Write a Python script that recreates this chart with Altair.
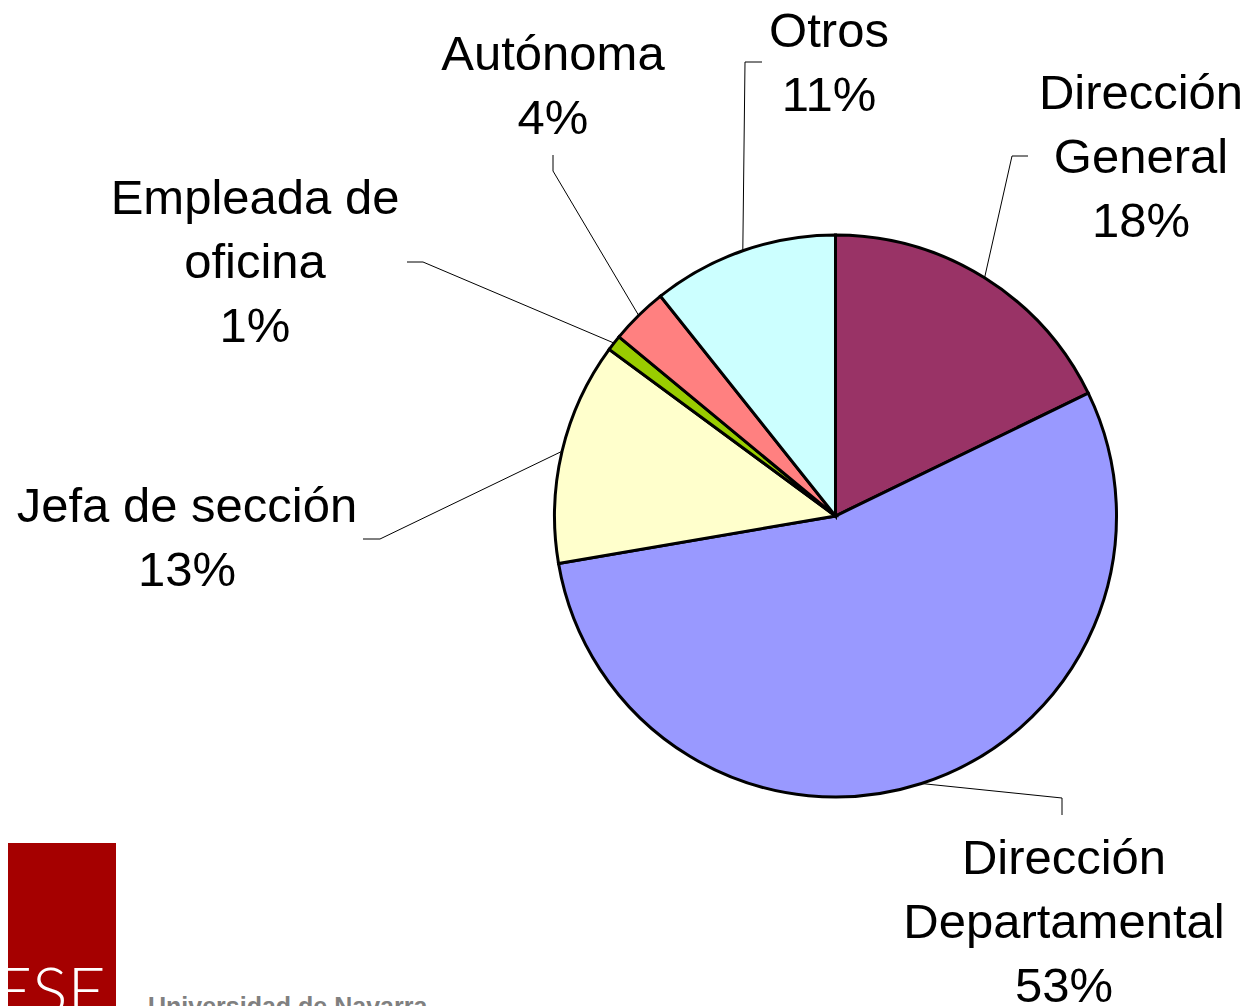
import numpy as np
import pandas as pd
import altair as alt

# ---------------- data ----------------
categories = ["Dirección General", "Dirección Departamental", "Jefa de sección",
              "Empleada de oficina", "Autónoma", "Otros"]
shares = [17.8, 54.5, 12.8, 0.9, 3.3, 10.7]
pct_labels = ["18%", "53%", "13%", "1%", "4%", "11%"]
name_lines = [["Dirección", "General"], ["Dirección", "Departamental"], ["Jefa de sección"],
              ["Empleada de", "oficina"], ["Autónoma"], ["Otros"]]
colors = ["#993366", "#9999FF", "#FFFFCC", "#99CC00", "#FF8080", "#CCFFFF"]

# ---------------- layout (pixels in chart space) ----------------
W, H = 1235, 998
CX, CY, R = 827.5, 508, 281
LINE_H = 64
FONT = 49
label_anchor = [(1133, 101), (1056, 866), (179, 514), (247, 206), (545, 62), (821, 39)]
elbows = [(1004, 148), (1054, 790), (372, 531), (415, 254), (545, 163), (737, 54)]
ends = [(1020, 148), (1054, 807), (355, 531), (399, 254), (545, 147), (754, 54)]

pie_df = pd.DataFrame({"cat": categories, "share": shares, "idx": range(len(shares))})

# leader lines: start at slice mid-angle on the rim
tot = sum(shares)
cum = np.cumsum([0] + shares)
rows = []
for i, c in enumerate(categories):
    mid = (cum[i] + shares[i] / 2) / tot * 2 * np.pi
    sx, sy = CX + R * np.sin(mid), CY - R * np.cos(mid)
    for k, (px, py) in enumerate([(sx, sy), elbows[i], ends[i]]):
        rows.append({"cat": c, "k": k, "px": px, "py": py})
lead_df = pd.DataFrame(rows)

trows = []
for i, c in enumerate(categories):
    lines = name_lines[i] + [pct_labels[i]]
    ax, ay = label_anchor[i]
    for j, t in enumerate(lines):
        trows.append({"t": t, "px": ax, "py": ay + j * LINE_H})
text_df = pd.DataFrame(trows)

pie = alt.Chart(pie_df).mark_arc(radius=R, stroke="black", strokeWidth=3).encode(
    theta=alt.Theta("share:Q", stack=True),
    color=alt.Color("cat:N", scale=alt.Scale(domain=categories, range=colors), legend=None),
    order=alt.Order("idx:Q"),
    x=alt.value(CX), y=alt.value(CY),
)

leaders = alt.Chart(lead_df).mark_line(color="black", strokeWidth=1).encode(
    x=alt.X("px:Q", scale=None, axis=None),
    y=alt.Y("py:Q", scale=None, axis=None),
    detail="cat:N",
    order="k:Q",
)

labels = alt.Chart(text_df).mark_text(
    font="Liberation Sans", fontSize=FONT, align="center", baseline="alphabetic", color="black"
).encode(
    x=alt.X("px:Q", scale=None, axis=None),
    y=alt.Y("py:Q", scale=None, axis=None),
    text="t:N",
)

logo_df = pd.DataFrame({"a": [0]})
logo_rect = alt.Chart(logo_df).mark_rect(color="#A50000").encode(
    x=alt.value(0), x2=alt.value(108), y=alt.value(835), y2=alt.value(H)
)
logo_text = alt.Chart(logo_df).mark_text(
    text="ESE", font="Lato", fontWeight=300, fontSize=66, color="white",
    align="left", baseline="alphabetic"
).encode(x=alt.value(-14), y=alt.value(1006))
uni_text = alt.Chart(logo_df).mark_text(
    text="Universidad de Navarra", font="Liberation Sans", fontWeight="bold", fontSize=25,
    color="#808080", align="left", baseline="alphabetic"
).encode(x=alt.value(140), y=alt.value(1007))

chart = alt.layer(pie, leaders, labels, logo_rect, logo_text, uni_text).properties(
    width=W, height=H, autosize=alt.AutoSizeParams(type="none"), padding=0
).configure_view(stroke=None)

chart.save("out.html", embed_options={"renderer": "svg", "actions": False})
